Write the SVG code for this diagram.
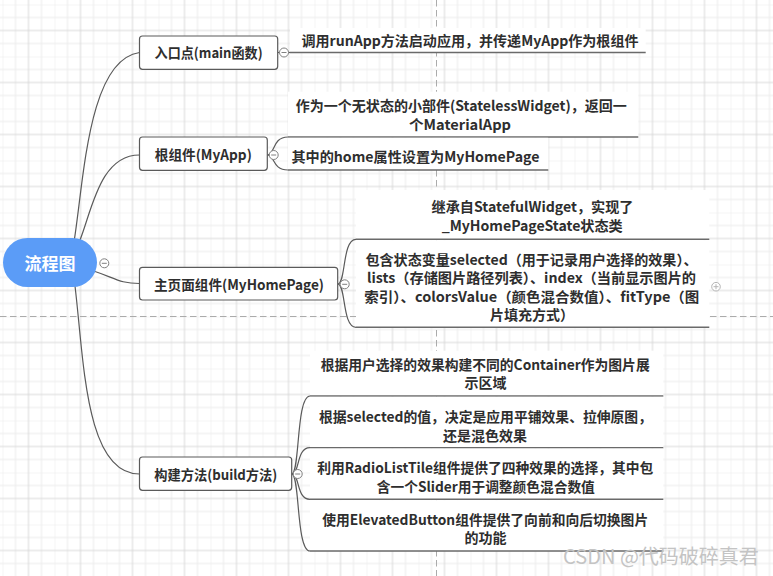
<svg xmlns="http://www.w3.org/2000/svg" width="773" height="576" viewBox="0 0 773 576">
<defs>
<pattern id="grid" patternUnits="userSpaceOnUse" x="2.5" y="4.5" width="52" height="52">
<rect width="52" height="52" fill="#ffffff"/>
<path d="M0 0V52M13 0V52M39 0V52M0 0H52M0 13H52M0 39H52" stroke="#ebebeb" stroke-width="1"/>
<path d="M26 0V52M0 26H52" stroke="#d9d9d9" stroke-width="1"/>
</pattern>
<style>
.t{font-family:"Noto Sans CJK SC","Noto Sans",sans-serif;font-weight:700;font-size:14px;fill:#2e2e2e}
.c{text-anchor:middle}
.box{fill:#fff;stroke:#5a5a5a;stroke-width:1.2}
.sub{fill:#fff}
.ul{stroke:#6a6a6a;stroke-width:1.6;fill:none}
.con{stroke:#5a5a5a;stroke-width:1.2;fill:none}
.dash{stroke:#ababab;stroke-width:1;stroke-dasharray:6.5 3.5;fill:none}
.tog{fill:#fff;stroke:#808080;stroke-width:1}
.togm{stroke:#808080;stroke-width:1}
</style>
</defs>
<rect width="773" height="576" fill="url(#grid)"/>
<path class="dash" d="M436.5 0V576M0 316.5H773"/>
<g id="connectors">
<path class="con" d="M74 242 C84 180 88 60 139.5 52.5"/>
<path class="con" d="M80 240 C92 210 100 155 139.5 155"/>
<path class="con" d="M95 271.5 C115 278 120 283.5 139.5 283.5"/>
<path class="con" d="M75 286 C84 360 85 474 139.5 474"/>
<path class="con" d="M277.7 52.5 L290 52.5"/>
<path class="con" d="M267.3 155 C275 155 272 137 288 137"/>
<path class="con" d="M267.3 155 C275 155 272 170 288 170"/>
<path class="con" d="M337.7 284 C346 284 342 239.3 356 239.3"/>
<path class="con" d="M337.7 284 C346 284 342 327.3 356 327.3"/>
<path class="con" d="M291.7 474 C300 474 296 396 310 396"/>
<path class="con" d="M291.7 474 C300 474 296 447.7 310 447.7"/>
<path class="con" d="M291.7 474 C300 474 296 499.3 310 499.3"/>
<path class="con" d="M291.7 474 C300 474 296 551 310 551"/>
</g>
<g id="root">
<rect x="3" y="238" width="94" height="49" rx="24.5" fill="#5b9cf7"/>
<text x="50" y="270" text-anchor="middle" style="font-family:'Noto Sans CJK SC',sans-serif;font-weight:700;font-size:17px;fill:#fff">流程图</text>
<circle class="tog" cx="104.3" cy="263.3" r="4.5"/>
<path class="togm" d="M101.8 263.3H106.8"/>
</g>
<g id="n1">
<rect class="box" x="139.5" y="36" width="138.2" height="33.3" rx="3"/>
<text class="t c" x="208.6" y="58" textLength="108" lengthAdjust="spacingAndGlyphs">入口点(main函数)</text>
<circle class="tog" cx="284" cy="52.5" r="4.5"/>
<path class="togm" d="M281.5 52.5H286.5"/>
</g>
<g id="n1c1">
<rect class="sub" x="290" y="28" width="355.7" height="24.5"/>
<path class="ul" d="M290 52.5H645.7"/>
<text class="t c" x="470" y="45.5" textLength="337" lengthAdjust="spacingAndGlyphs">调用runApp方法启动应用，并传递MyApp作为根组件</text>
</g>
<g id="n2">
<rect class="box" x="139.5" y="137" width="127.8" height="33.3" rx="3"/>
<text class="t c" x="203.3" y="160" textLength="97" lengthAdjust="spacingAndGlyphs">根组件(MyApp)</text>
<circle class="tog" cx="273.7" cy="155" r="4.5"/>
<path class="togm" d="M271.2 155H276.2"/>
</g>
<g id="n2c1">
<rect class="sub" x="288" y="91.7" width="350.3" height="45.3"/>
<path class="ul" d="M288 137H638.3"/>
<text class="t c" x="461.3" y="110.8" textLength="331" lengthAdjust="spacingAndGlyphs">作为一个无状态的小部件(StatelessWidget)，返回一</text>
<text class="t c" x="460" y="129.6" textLength="102" lengthAdjust="spacingAndGlyphs">个MaterialApp</text>
</g>
<g id="n2c2">
<rect class="sub" x="288" y="137.8" width="260.3" height="32.2"/>
<path class="ul" d="M288 170H548.3"/>
<text class="t c" x="415.4" y="161.5" textLength="248" lengthAdjust="spacingAndGlyphs">其中的home属性设置为MyHomePage</text>
</g>
<g id="n3">
<rect class="box" x="139.5" y="267.3" width="198.2" height="32.7" rx="3"/>
<text class="t c" x="239" y="290" textLength="170" lengthAdjust="spacingAndGlyphs">主页面组件(MyHomePage)</text>
<circle class="tog" cx="344.7" cy="284.3" r="4.5"/>
<path class="togm" d="M342.2 284.3H347.2"/>
</g>
<g id="n3c1">
<rect class="sub" x="356" y="190" width="353.3" height="49.3"/>
<path class="ul" d="M356 239.3H709.3"/>
<text class="t c" x="532.5" y="211.5" textLength="202" lengthAdjust="spacingAndGlyphs">继承自StatefulWidget，实现了</text>
<text class="t c" x="532.2" y="231" textLength="181" lengthAdjust="spacingAndGlyphs">_MyHomePageState状态类</text>
</g>
<g id="n3c2">
<rect class="sub" x="356" y="240.1" width="353.3" height="87.2"/>
<path class="ul" d="M356 327.3H709.3"/>
<text class="t c" x="531.5" y="265" textLength="332" lengthAdjust="spacingAndGlyphs">包含状态变量selected（用于记录用户选择的效果）、</text>
<text class="t c" x="531.5" y="283.3" textLength="329" lengthAdjust="spacingAndGlyphs">lists（存储图片路径列表）、index（当前显示图片的</text>
<text class="t c" x="531.8" y="301.7" textLength="335" lengthAdjust="spacingAndGlyphs">索引）、colorsValue（颜色混合数值）、fitType（图</text>
<text class="t c" x="532" y="320">片填充方式）</text>
</g>
<g id="n4">
<rect class="box" x="139.5" y="457" width="152.2" height="33.3" rx="3"/>
<text class="t c" x="215.8" y="480" textLength="123" lengthAdjust="spacingAndGlyphs">构建方法(build方法)</text>
<circle class="tog" cx="297.7" cy="474" r="4.5"/>
<path class="togm" d="M295.2 474H300.2"/>
</g>
<g id="n4c1">
<rect class="sub" x="310" y="350.7" width="353.3" height="45.3"/>
<path class="ul" d="M310 396H663.3"/>
<text class="t c" x="485.2" y="370" textLength="329" lengthAdjust="spacingAndGlyphs">根据用户选择的效果构建不同的Container作为图片展</text>
<text class="t c" x="485.5" y="388.3">示区域</text>
</g>
<g id="n4c2">
<rect class="sub" x="310" y="396.8" width="353.3" height="50.9"/>
<path class="ul" d="M310 447.7H663.3"/>
<text class="t c" x="485.5" y="421.7" textLength="333" lengthAdjust="spacingAndGlyphs">根据selected的值，决定是应用平铺效果、拉伸原图，</text>
<text class="t c" x="485" y="440.7">还是混色效果</text>
</g>
<g id="n4c3">
<rect class="sub" x="310" y="448.5" width="353.3" height="50.8"/>
<path class="ul" d="M310 499.3H663.3"/>
<text class="t c" x="485.2" y="472.7" textLength="336" lengthAdjust="spacingAndGlyphs">利用RadioListTile组件提供了四种效果的选择，其中包</text>
<text class="t c" x="485.8" y="491.7" textLength="218" lengthAdjust="spacingAndGlyphs">含一个Slider用于调整颜色混合数值</text>
</g>
<g id="n4c4">
<rect class="sub" x="310" y="500.1" width="353.3" height="50.9"/>
<path class="ul" d="M310 551H663.3"/>
<text class="t c" x="485.2" y="525" textLength="326" lengthAdjust="spacingAndGlyphs">使用ElevatedButton组件提供了向前和向后切换图片</text>
<text class="t c" x="485.5" y="543.3">的功能</text>
</g>
<g id="extra">
<circle cx="716" cy="286.7" r="4.3" fill="#fff" stroke="#b5b5b5" stroke-width="1"/>
<path d="M713.5 286.7H718.5M716 284.2V289.2" stroke="#b5b5b5" stroke-width="1"/>
</g>
<text x="661" y="563.5" text-anchor="middle" style="font-family:'Noto Sans CJK SC',sans-serif;font-size:20px;fill:#c4c4c4">CSDN @代码破碎真君</text>
</svg>
